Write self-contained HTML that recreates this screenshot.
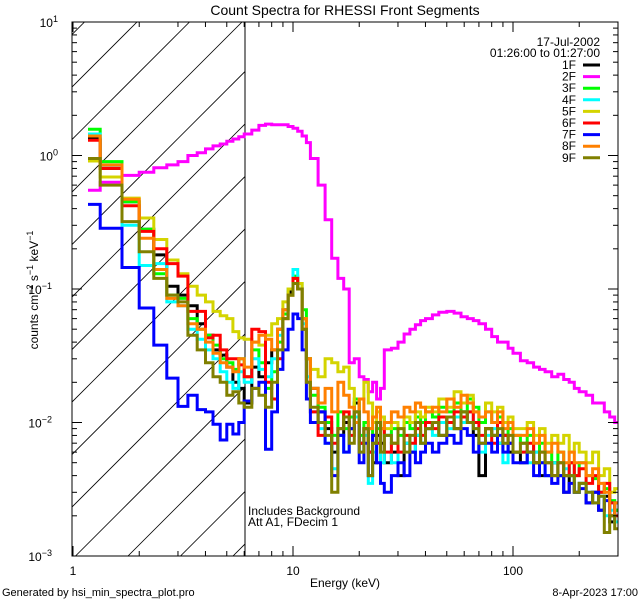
<!DOCTYPE html>
<html><head><meta charset="utf-8"><style>
html,body{margin:0;padding:0;background:#fff;}
svg{display:block;font-family:"Liberation Sans",sans-serif;}
text{fill:#000;}
</style></head><body>
<svg id="chart" width="640" height="600" viewBox="0 0 640 600">
<defs><clipPath id="pc"><rect x="72" y="22" width="546" height="534"/></clipPath>
<clipPath id="hc"><rect x="72" y="22" width="173" height="534"/></clipPath></defs>
<rect x="0" y="0" width="640" height="600" fill="#fff"/>
<text x="345" y="15" font-size="14" text-anchor="middle">Count Spectra for RHESSI Front Segments</text>
<g id="hatch" clip-path="url(#hc)"></g>
<line x1="245" y1="22" x2="245" y2="556" stroke="#000" stroke-width="1"/>
<g id="series" clip-path="url(#pc)"></g>
<rect x="72" y="22" width="546" height="534" fill="none" stroke="#000" stroke-width="1"/>
<g id="axes"></g>
<text x="600" y="46" font-size="12" text-anchor="end">17-Jul-2002</text>
<text x="600" y="57" font-size="12" text-anchor="end">01:26:00 to 01:27:00</text>
<g id="legend"></g>
<text x="248" y="515" font-size="12">Includes Background</text>
<text x="248" y="526" font-size="12">Att A1, FDecim 1</text>
<text x="345" y="587" font-size="12" text-anchor="middle">Energy (keV)</text>
<text transform="translate(38,290) rotate(-90)" font-size="12" text-anchor="middle">counts cm<tspan dy="-5" font-size="9">−2</tspan><tspan dy="5">&#160;s</tspan><tspan dy="-5" font-size="9">−1</tspan><tspan dy="5">&#160;keV</tspan><tspan dy="-5" font-size="9">−1</tspan></text>
<text x="2" y="596" font-size="11">Generated by hsi_min_spectra_plot.pro</text>
<text x="638" y="596" font-size="11" text-anchor="end">8-Apr-2023 17:00</text>
</svg>
<script>
const edges=[1.17,1.33,1.67,2,2.33,2.67,3,3.33,3.67,4,4.33,4.67,5,5.33,5.67,6,6.5,7,7.5,8,8.5,9,9.5,10,10.5,11,11.5,12,13,14,15,16,17,18,19,20,21,22,23,24,25,26,28,30,32,34,36,38,40,43,46,50,54,58,62,66,70,75,80,85,90,95,100,108,116,124,132,140,150,160,170,180,190,200,215,230,245,260,275,290,300];
const labels=["1F","2F","3F","4F","5F","6F","7F","8F","9F"];
const colors=["#000000","#ff00ff","#00ff00","#00ffff","#d4d400","#ff0000","#0000ff","#ff8000","#808000"];
const s1F=[1.33,0.80,0.45,0.28,0.18,0.105,0.09,0.075,0.055,0.045,0.035,0.032,0.026,0.020,0.018,0.014,
0.026,0.022,0.028,0.035,0.05,0.07,0.095,0.12,0.10,0.06,0.03,0.018,
0.012,0.009,0.006,0.008,0.010,0.009,0.014,0.007,0.009,0.006,0.005,0.008,0.007,0.005,
0.006,0.004,0.007,0.006,0.008,0.007,0.009,
0.010,0.008,0.011,0.009,0.012,0.010,0.008,0.004,
0.009,0.008,0.007,0.008,0.006,0.006,
0.005,0.006,0.005,0.004,0.004,0.005,0.004,0.003,0.004,0.003,0.0035,
0.0025,0.003,0.0022,0.0028,0.0018,0.0022];
const s2F=[0.55,0.63,0.71,0.75,0.81,0.85,0.9,1.0,1.05,1.12,1.18,1.22,1.28,1.33,1.38,1.45,
1.55,1.68,1.72,1.70,1.70,1.70,1.65,1.60,1.52,1.40,1.25,0.95,
0.6,0.33,0.17,0.12,0.10,0.028,0.030,0.022,0.021,0.017,0.020,0.015,0.018,0.035,
0.036,0.040,0.046,0.050,0.054,0.058,0.060,
0.064,0.067,0.068,0.066,0.062,0.060,0.058,0.055,
0.050,0.044,0.040,0.040,0.036,0.033,
0.029,0.028,0.026,0.025,0.024,0.022,0.023,0.021,0.020,0.018,0.017,
0.016,0.014,0.014,0.012,0.011,0.010];
const s3F=[1.57,0.90,0.45,0.28,0.13,0.09,0.085,0.06,0.05,0.045,0.038,0.030,0.028,0.025,0.030,0.022,
0.035,0.028,0.018,0.024,0.04,0.065,0.09,0.125,0.11,0.07,0.03,0.016,
0.013,0.010,0.008,0.012,0.009,0.011,0.015,0.008,0.010,0.009,0.007,0.009,0.011,0.008,
0.009,0.008,0.010,0.009,0.011,0.010,0.012,
0.011,0.013,0.012,0.014,0.012,0.015,0.013,0.010,
0.012,0.010,0.011,0.008,0.009,0.008,
0.007,0.008,0.006,0.007,0.006,0.005,0.006,0.004,0.005,0.004,0.005,
0.004,0.0038,0.003,0.0032,0.0026,0.0022];
const s4F=[1.45,0.85,0.30,0.15,0.155,0.08,0.075,0.05,0.042,0.035,0.030,0.024,0.020,0.018,0.024,0.020,
0.03,0.025,0.022,0.03,0.045,0.07,0.10,0.14,0.10,0.055,0.022,0.012,
0.009,0.007,0.0045,0.008,0.006,0.009,0.011,0.006,0.008,0.0035,0.006,0.007,0.005,0.008,
0.005,0.006,0.007,0.006,0.008,0.007,0.009,
0.008,0.010,0.009,0.011,0.010,0.012,0.009,0.006,
0.008,0.009,0.007,0.005,0.007,0.006,
0.006,0.005,0.006,0.005,0.004,0.005,0.004,0.0045,0.004,0.003,0.0035,
0.003,0.0025,0.0028,0.002,0.0022,0.0018];
const s5F=[0.91,0.69,0.48,0.34,0.235,0.165,0.13,0.105,0.09,0.08,0.068,0.063,0.06,0.048,0.043,0.042,
0.040,0.038,0.045,0.055,0.06,0.08,0.10,0.12,0.11,0.06,0.03,0.025,
0.022,0.030,0.028,0.024,0.026,0.018,0.012,0.015,0.020,0.014,0.010,0.012,0.011,0.009,
0.010,0.009,0.011,0.010,0.012,0.011,0.013,
0.012,0.015,0.013,0.017,0.014,0.016,0.012,0.011,
0.014,0.012,0.013,0.010,0.011,0.009,
0.009,0.010,0.008,0.009,0.007,0.008,0.007,0.008,0.006,0.007,0.006,
0.005,0.006,0.004,0.0045,0.003,0.0032];
const s6F=[1.3,0.80,0.42,0.27,0.20,0.155,0.125,0.068,0.068,0.043,0.045,0.035,0.030,0.030,0.027,0.022,
0.05,0.048,0.02,0.015,0.03,0.06,0.09,0.12,0.10,0.05,0.02,0.012,
0.008,0.011,0.007,0.009,0.012,0.008,0.010,0.007,0.009,0.006,0.008,0.007,0.009,0.006,
0.007,0.006,0.008,0.007,0.009,0.008,0.010,
0.009,0.011,0.010,0.012,0.011,0.012,0.010,0.008,
0.009,0.007,0.010,0.008,0.007,0.006,
0.006,0.007,0.005,0.006,0.005,0.004,0.005,0.004,0.005,0.004,0.0045,
0.0035,0.004,0.003,0.0035,0.0025,0.002];
const s7F=[0.43,0.285,0.145,0.072,0.038,0.0215,0.0132,0.016,0.0125,0.012,0.0097,0.0074,0.0097,0.0082,0.010,0.0145,
0.018,0.020,0.0063,0.012,0.025,0.035,0.05,0.065,0.06,0.035,0.015,0.010,
0.012,0.007,0.004,0.008,0.006,0.009,0.012,0.005,0.007,0.004,0.008,0.005,0.0035,0.003,
0.004,0.005,0.004,0.006,0.005,0.006,0.007,
0.006,0.007,0.008,0.007,0.009,0.008,0.006,0.007,
0.007,0.006,0.008,0.006,0.007,0.005,
0.005,0.006,0.004,0.005,0.004,0.0035,0.004,0.003,0.0035,0.003,0.0032,
0.0025,0.003,0.0022,0.0026,0.002,0.0025];
const s8F=[1.4,0.85,0.47,0.24,0.14,0.085,0.075,0.055,0.05,0.04,0.033,0.028,0.026,0.024,0.030,0.026,
0.04,0.045,0.042,0.035,0.05,0.07,0.09,0.11,0.10,0.06,0.03,0.018,
0.014,0.018,0.012,0.020,0.016,0.013,0.010,0.015,0.012,0.009,0.011,0.013,0.009,0.010,
0.012,0.011,0.013,0.012,0.014,0.013,0.012,
0.013,0.012,0.015,0.013,0.016,0.014,0.012,0.011,
0.012,0.010,0.012,0.009,0.010,0.008,
0.008,0.009,0.007,0.008,0.006,0.007,0.006,0.005,0.006,0.005,0.005,
0.004,0.0045,0.0035,0.003,0.002,0.0025];
const s9F=[0.95,0.60,0.32,0.19,0.12,0.09,0.08,0.045,0.035,0.028,0.022,0.020,0.016,0.017,0.014,0.013,
0.018,0.016,0.013,0.02,0.035,0.06,0.09,0.11,0.10,0.05,0.02,0.013,
0.010,0.008,0.003,0.009,0.011,0.007,0.012,0.006,0.009,0.004,0.007,0.010,0.006,0.008,
0.007,0.009,0.006,0.008,0.010,0.007,0.009,
0.010,0.008,0.011,0.009,0.012,0.010,0.009,0.007,
0.009,0.008,0.009,0.007,0.008,0.006,
0.007,0.006,0.005,0.006,0.005,0.004,0.005,0.004,0.004,0.003,0.0035,
0.003,0.0025,0.0028,0.0015,0.002,0.0016];
const seriesData=[s1F,s2F,s3F,s4F,s5F,s6F,s7F,s8F,s9F];
const xTickVals=[1,10,100];
const xTickLabels=["1","10","100"];
const yTickExps=[1,0,-1,-2,-3];

const NS="http://www.w3.org/2000/svg";
const L=72,R=618,T=22,B=556,X0=73,DX=220;
function xs(e){return X0+Math.log10(e)*DX;}
function ys(v){return T+(1-Math.log10(v))*(B-T)/4;}
function mk(tag,attrs,parent){const el=document.createElementNS(NS,tag);for(const k in attrs)el.setAttribute(k,attrs[k]);parent.appendChild(el);return el;}

const hatch=document.getElementById('hatch');
for(let c=264-52.5*4;c<820;c+=52.5){
  const ln=mk('line',{x1:c-600,y1:600,x2:c,y2:0,stroke:'#000','stroke-width':0.8},hatch);
  
  
}

const sg=document.getElementById('series');
seriesData.forEach((vals,i)=>{
  let d='M'+xs(edges[0]).toFixed(1)+' '+ys(vals[0]).toFixed(1);
  for(let j=0;j<vals.length;j++){
    if(j>0)d+=' V'+ys(vals[j]).toFixed(1);
    d+=' H'+xs(edges[j+1]).toFixed(1);
  }
  const p=mk('path',{d:d,fill:'none',stroke:colors[i],'stroke-width':3,'stroke-linejoin':'miter'},sg);
  
  
});

const ax=document.getElementById('axes');
function tick(x1,y1,x2,y2,name){const t=mk('line',{x1,y1,x2,y2,stroke:'#000','stroke-width':1},ax);}
for(let dec=0;dec<3;dec++){
  for(let m=1;m<10;m++){
    const e=m*Math.pow(10,dec); if(e>300)break;
    const x=xs(e); const len=m===1?10:5;
    tick(x,B,x,B-len,'x-tick');
    tick(x,T,x,T+len,'x-tick-top');
  }
}
xTickVals.forEach((v,i)=>{
  const t=mk('text',{x:xs(v),y:575,'font-size':12,'text-anchor':'middle'},ax);
  t.textContent=xTickLabels[i];
  
  
});
for(let ex=-3;ex<1;ex++){
  for(let m=1;m<10;m++){
    const v=m*Math.pow(10,ex); const y=ys(v); const len=m===1?10:5;
    tick(L,y,L+len,y,'y-tick');
    tick(R,y,R-len,y,'y-tick-right');
  }
}
yTickExps.forEach(ex=>{
  const y=ys(Math.pow(10,ex));
  const t=mk('text',{x:62,y:y+5,'font-size':12,'text-anchor':'end'},ax);
  
  
  t.textContent='10';
  const s=mk('tspan',{dy:-5,'font-size':9},t);
  s.textContent=ex<0?'−'+(-ex):String(ex);
  t.setAttribute('x',66-(ex<0?14:8));
});

const lg=document.getElementById('legend');
labels.forEach((lab,i)=>{
  const y=65+i*11.6;
  const t=mk('text',{x:576,y:y+4,'font-size':12,'text-anchor':'end'},lg);
  t.textContent=lab;
  
  
  const l=mk('line',{x1:583,y1:y,x2:600,y2:y,stroke:colors[i],'stroke-width':3},lg);
  
  
});
</script>
</body></html>
